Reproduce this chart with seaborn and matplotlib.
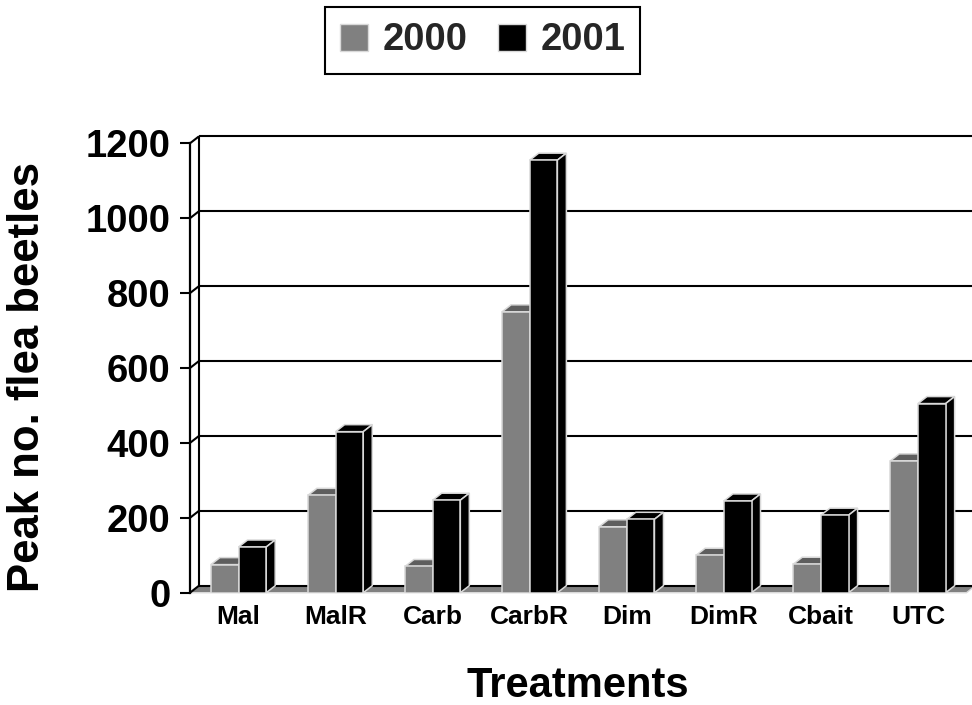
import matplotlib
matplotlib.use("Agg")
import matplotlib.pyplot as plt
import pandas as pd
import seaborn as sns
from matplotlib.patches import Polygon, Patch

# Peak flea beetle counts per treatment, two seasons
treatments = ["Mal", "MalR", "Carb", "CarbR", "Dim", "DimR", "Cbait", "UTC"]
years = ["2000", "2001"]
beetles_2000 = [75, 260, 70, 750, 176, 100, 76, 352]
beetles_2001 = [122, 430, 247, 1155, 196, 245, 207, 505]
y_ticks = [0, 200, 400, 600, 800, 1000, 1200]

df = pd.DataFrame({
    "Treatment": treatments * 2,
    "Year": [years[0]] * len(treatments) + [years[1]] * len(treatments),
    "Peak": beetles_2000 + beetles_2001,
})

sns.set_theme(style="ticks")
plt.rcParams["font.family"] = ["Liberation Sans", "DejaVu Sans"]
plt.rcParams["font.weight"] = "bold"

W, H = 972, 705
fig = plt.figure(figsize=(W / 100, H / 100), dpi=100)
left_px, right_px = 190.0, 966.5
top_px, bottom_px = 143.3, 592.7
ax = fig.add_axes([left_px / W, 1 - bottom_px / H,
                   (right_px - left_px) / W, (bottom_px - top_px) / H])

palette = {"2000": "#808080", "2001": "#000000"}
top_shade = {"2000": "#5e5e5e", "2001": "#000000"}
edge = "#d9d9d9"

sns.barplot(data=df, x="Treatment", y="Peak", hue="Year", order=treatments,
            hue_order=years, palette=palette, width=0.57, gap=0,
            saturation=1, edgecolor=edge, linewidth=1.1, legend=False, ax=ax)

x0, x1 = -0.5, len(treatments) - 0.5
y_max = y_ticks[-1]
ax.set_xlim(x0, x1)
ax.set_ylim(0, y_max)

# depth of the 3-D box, in data units
px_x = (right_px - left_px) / (x1 - x0)
px_y = (bottom_px - top_px) / y_max
DX, DY = 9 / px_x, 7 / px_y

# extruded tops and sides of each column
bars = [p for p in ax.patches]
for p in bars:
    bx, bw, bh = p.get_x(), p.get_width(), p.get_height()
    is_2000 = p.get_facecolor()[0] > 0.3
    yr = "2000" if is_2000 else "2001"
    z = 3.0 if is_2000 else 3.5
    p.set_zorder(z)
    top = Polygon([(bx, bh), (bx + bw, bh), (bx + bw + DX, bh + DY), (bx + DX, bh + DY)],
                  closed=True, facecolor=top_shade[yr], edgecolor=edge, lw=1.1,
                  joinstyle="miter", zorder=z - 0.1, clip_on=False)
    side = Polygon([(bx + bw, 0), (bx + bw + DX, DY), (bx + bw + DX, bh + DY), (bx + bw, bh)],
                   closed=True, facecolor=palette[yr], edgecolor=edge, lw=1.1,
                   joinstyle="miter", zorder=z - 0.1, clip_on=False)
    ax.add_patch(top)
    ax.add_patch(side)

# floor
floor = Polygon([(x0, 0), (x1, 0), (x1 + DX, DY), (x0 + DX, DY)], closed=True,
                facecolor="#808080", edgecolor=edge, lw=1.0, zorder=1.2, clip_on=False)
ax.add_patch(floor)

# back wall gridlines, side wall connectors and back edge
line_kw = dict(color="black", lw=1.5, clip_on=False, solid_capstyle="butt")
for v in y_ticks:
    ax.plot([x0 + DX, x1 + DX + 0.3], [v + DY, v + DY], zorder=1.3, **line_kw)
    ax.plot([x0, x0 + DX], [v, v + DY], zorder=1.3, **line_kw)
ax.plot([x0 + DX, x0 + DX], [DY, y_max + DY], zorder=1.3, **line_kw)

# axes styling
for s in ["top", "right", "bottom"]:
    ax.spines[s].set_visible(False)
ax.spines["left"].set_linewidth(1.6)
ax.spines["left"].set_color("black")
ax.spines["left"].set_zorder(1.4)
ax.set_yticks(y_ticks)
ax.tick_params(axis="y", length=7, width=1.5, color="black", pad=7,
               labelsize=27.5, labelcolor="black")
ax.tick_params(axis="x", length=0, pad=9.0, labelsize=19, labelcolor="black")
for lab in ax.get_xticklabels() + ax.get_yticklabels():
    lab.set_fontweight("bold")

ax.set_xlabel("Treatments", fontsize=30, fontweight="bold", color="black")
ax.xaxis.label.set_va("center")
ax.xaxis.set_label_coords(0.5, (bottom_px - 686) / (bottom_px - top_px))
ax.set_ylabel("Peak no. flea beetles", fontsize=31.5, fontweight="bold", color="black")
ax.yaxis.label.set_va("center")
ax.yaxis.set_label_coords((28 - left_px) / (right_px - left_px),
                          (bottom_px - 377) / (bottom_px - top_px))

handles = [Patch(facecolor=palette[y], edgecolor=edge, lw=1.0, label=y) for y in years]
leg = fig.legend(handles=handles, loc="center", bbox_to_anchor=(482.5 / W, 1 - 40.5 / H),
                 ncol=2, prop={"weight": "bold", "size": 27.5}, frameon=True,
                 fancybox=False, edgecolor="black", framealpha=1,
                 handlelength=0.75, handleheight=0.72, handletextpad=0.36,
                 columnspacing=0.8, borderpad=0.4, borderaxespad=0)
leg.get_frame().set_linewidth(1.5)

fig.savefig("out.png", dpi=100)
